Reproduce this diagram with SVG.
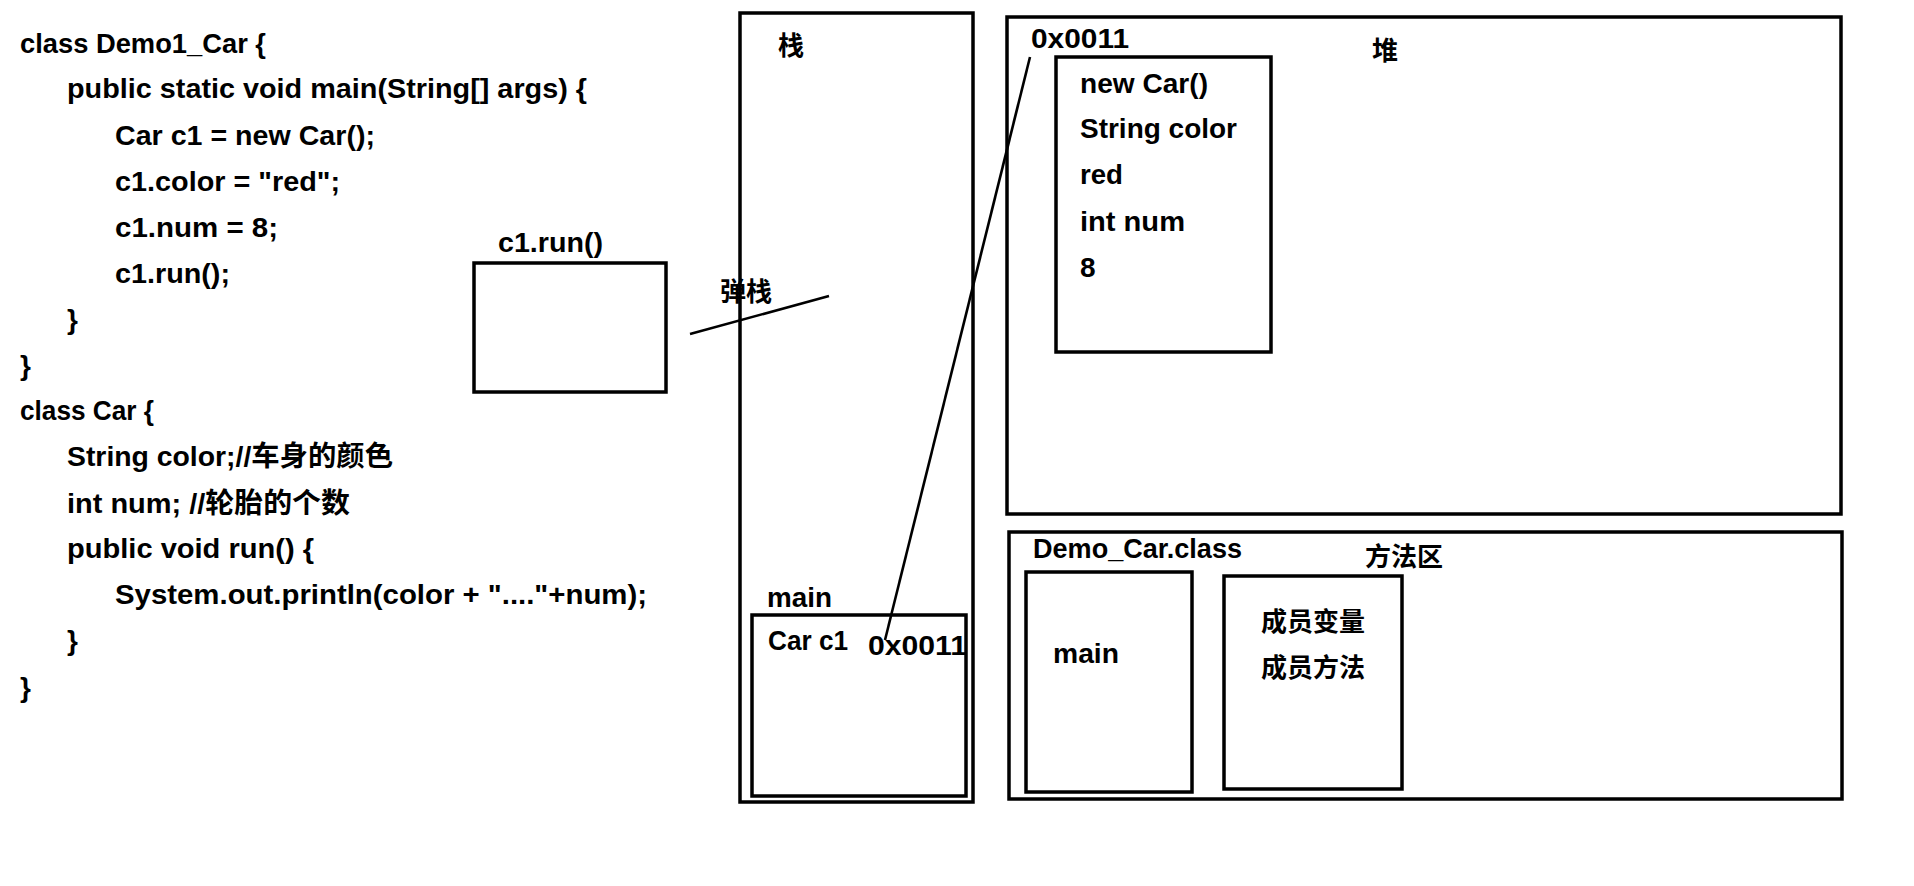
<svg xmlns="http://www.w3.org/2000/svg" width="1914" height="886" viewBox="0 0 1914 886">
<style>
.t{font-family:"Liberation Sans","Noto Sans CJK SC",sans-serif;font-weight:bold;font-size:28px;fill:#000}
.c{font-family:"Noto Sans CJK SC","Liberation Sans",sans-serif;font-weight:bold;font-size:26px;fill:#000}
.box{fill:none;stroke:#000;stroke-width:3.5}
.ln{stroke:#000;stroke-width:2.6;fill:none}
</style>
<rect x="0" y="0" width="1914" height="886" fill="#fff"/>
<g id="code">
<text class="t" x="20" y="53" textLength="246" lengthAdjust="spacingAndGlyphs">class Demo1_Car {</text>
<text class="t" x="67" y="98" textLength="520" lengthAdjust="spacingAndGlyphs">public static void main(String[] args) {</text>
<text class="t" x="115" y="145" textLength="260" lengthAdjust="spacingAndGlyphs">Car c1 = new Car();</text>
<text class="t" x="115" y="191" textLength="225" lengthAdjust="spacingAndGlyphs">c1.color = "red";</text>
<text class="t" x="115" y="237" textLength="163" lengthAdjust="spacingAndGlyphs">c1.num = 8;</text>
<text class="t" x="115" y="283" textLength="115" lengthAdjust="spacingAndGlyphs">c1.run();</text>
<text class="t" x="67" y="329">}</text>
<text class="t" x="20" y="375">}</text>
<text class="t" x="20" y="420" textLength="134" lengthAdjust="spacingAndGlyphs">class Car {</text>
<text class="t" x="67" y="466" textLength="326" lengthAdjust="spacingAndGlyphs">String color;//车身的颜色</text>
<text class="t" x="67" y="513" textLength="283" lengthAdjust="spacingAndGlyphs">int num; //轮胎的个数</text>
<text class="t" x="67" y="558" textLength="247" lengthAdjust="spacingAndGlyphs">public void run() {</text>
<text class="t" x="115" y="604" textLength="532" lengthAdjust="spacingAndGlyphs">System.out.println(color + "...."+num);</text>
<text class="t" x="67" y="650">}</text>
<text class="t" x="20" y="697">}</text>
</g>
<g id="run-frame">
<rect class="box" x="474" y="263" width="192" height="129"/>
<text class="t" x="498" y="252" textLength="105" lengthAdjust="spacingAndGlyphs">c1.run()</text>
</g>
<g id="pop-label">
<text class="c" x="720" y="301">弹栈</text>
</g>
<g id="stack">
<rect class="box" x="740" y="13" width="233" height="789"/>
<text class="c" x="778" y="55">栈</text>
</g>
<g id="main-frame">
<rect class="box" x="752" y="615" width="214" height="181"/>
<text class="t" x="767" y="607" textLength="65" lengthAdjust="spacingAndGlyphs">main</text>
<text class="t" x="768" y="650" textLength="80" lengthAdjust="spacingAndGlyphs">Car c1</text>
<text class="t" x="868" y="655" textLength="99" lengthAdjust="spacingAndGlyphs">0x0011</text>
</g>
<g id="heap">
<rect class="box" x="1007" y="17" width="834" height="497"/>
<text class="c" x="1372" y="60">堆</text>
</g>
<g id="car-object">
<text class="t" x="1031" y="48" textLength="98" lengthAdjust="spacingAndGlyphs">0x0011</text>
<rect class="box" x="1056" y="57" width="215" height="295"/>
<text class="t" x="1080" y="93" textLength="128" lengthAdjust="spacingAndGlyphs">new Car()</text>
<text class="t" x="1080" y="138" textLength="157" lengthAdjust="spacingAndGlyphs">String color</text>
<text class="t" x="1080" y="184" textLength="43" lengthAdjust="spacingAndGlyphs">red</text>
<text class="t" x="1080" y="231" textLength="105" lengthAdjust="spacingAndGlyphs">int num</text>
<text class="t" x="1080" y="277">8</text>
</g>
<g id="method-area">
<rect class="box" x="1009" y="532" width="833" height="267"/>
<text class="t" x="1033" y="558" textLength="209" lengthAdjust="spacingAndGlyphs">Demo_Car.class</text>
<text class="c" x="1365" y="566">方法区</text>
</g>
<g id="class-main">
<rect class="box" x="1026" y="572" width="166" height="220"/>
<text class="t" x="1053" y="663" textLength="66" lengthAdjust="spacingAndGlyphs">main</text>
</g>
<g id="class-members">
<rect class="box" x="1224" y="576" width="178" height="213"/>
<text class="c" x="1261" y="631">成员变量</text>
<text class="c" x="1261" y="677">成员方法</text>
</g>
<g id="connectors">
<line class="ln" x1="1030" y1="57" x2="885" y2="640"/>
<line class="ln" x1="690" y1="334" x2="829" y2="296"/>
</g>
</svg>
